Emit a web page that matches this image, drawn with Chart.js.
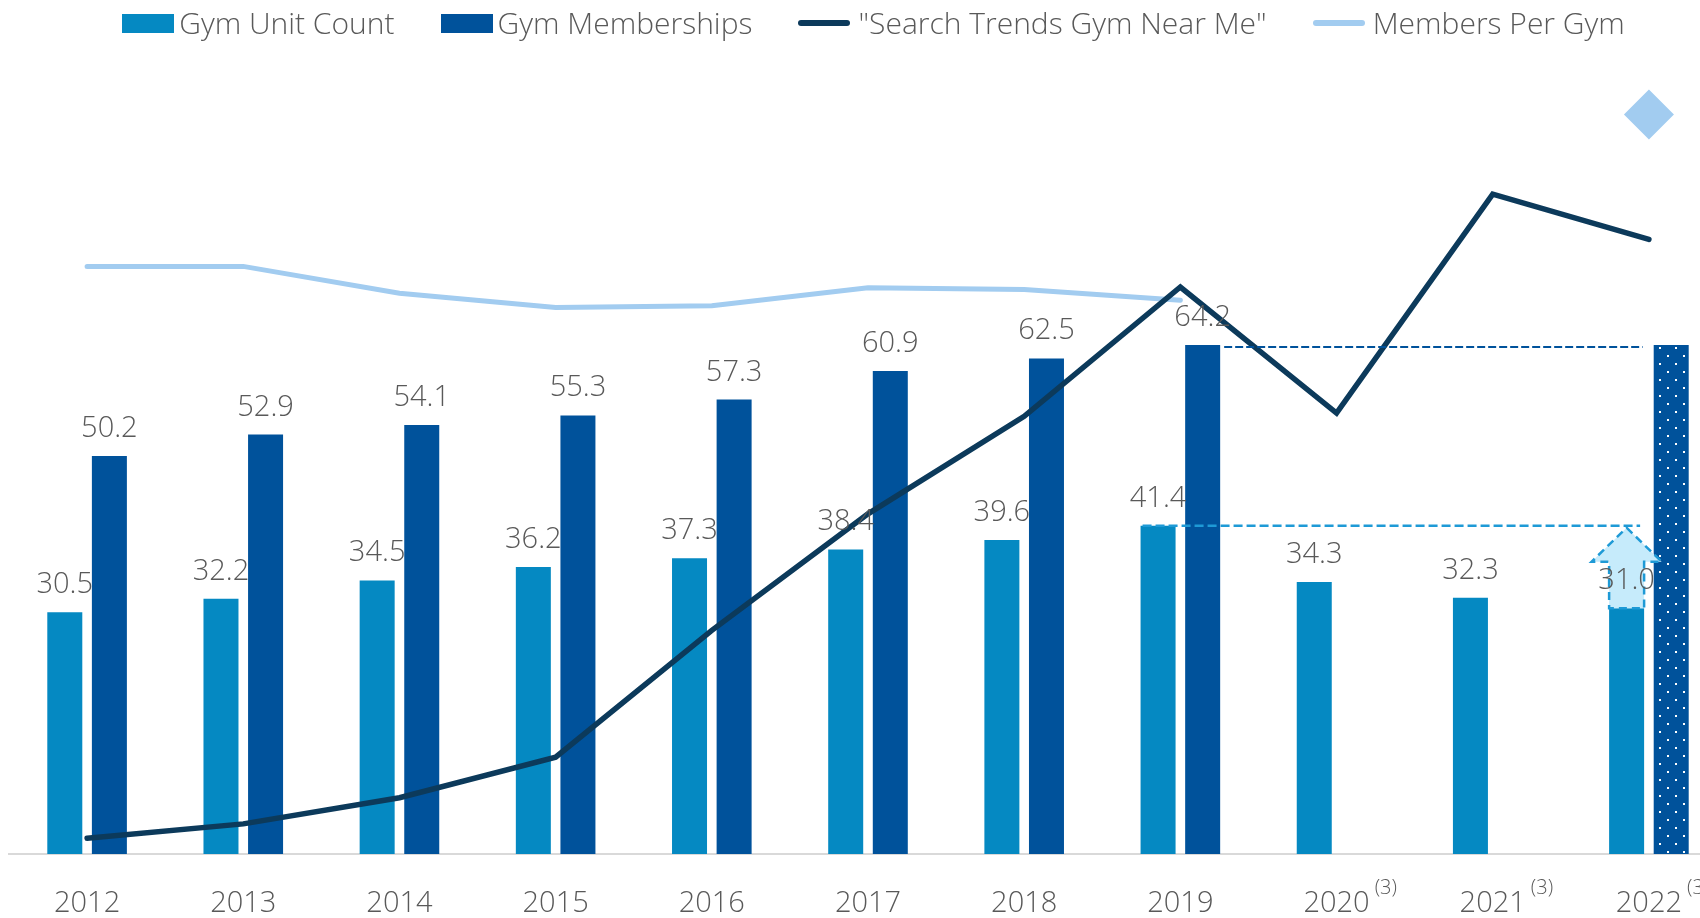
<!DOCTYPE html>
<html lang="en">
<head>
    <meta charset="UTF-8">
    <title>Gym Units, Memberships and Search Trends</title>
    <script src="https://cdn.jsdelivr.net/npm/chart.js"></script>
    <style>
        html, body { margin: 0; padding: 0; background: #fff; overflow: hidden; }
        #wrap { position: relative; width: 1740px; height: 918px; }
        #legend {
            position: absolute; top: 8px; left: 0; width: 1747px;
            display: flex; justify-content: center; gap: 46px;
            font-family: "Open Sans", sans-serif; font-weight: 300; font-size: 30px;
            line-height: 30px; color: #595959; z-index: 2;
        }
        #legend .item { display: flex; align-items: center; white-space: nowrap; }
        #legend .box { width: 52px; height: 19px; margin-right: 5px; }
        #legend .line { width: 52px; height: 6px; border-radius: 3px; margin-right: 8px; }
        canvas { position: absolute; top: 0; left: 0; }
    </style>
</head>
<body>
<div id="wrap">
    <div id="legend"></div>
    <canvas id="gymChart" width="1740" height="918"></canvas>
</div>
<script>
    // data
    const years = ['2012', '2013', '2014', '2015', '2016', '2017', '2018', '2019', '2020', '2021', '2022'];
    const footnoteYears = ['2020', '2021', '2022'];
    const gymUnits = [30.5, 32.2, 34.5, 36.2, 37.3, 38.4, 39.6, 41.4, 34.3, 32.3, 31.0];
    const gymMemberships = [50.2, 52.9, 54.1, 55.3, 57.3, 60.9, 62.5, 64.2, null, null, 64.2];
    const membershipProjected = [false, false, false, false, false, false, false, false, false, false, true];
    const searchTrends = [2.0, 3.8, 7.1, 12.2, 28.2, 42.9, 55.2, 71.5, 55.6, 83.2, 77.5];
    const membersPerGym = [1.645, 1.645, 1.57, 1.53, 1.535, 1.585, 1.58, 1.55, null, null, 2.07];

    const colUnits = '#0589c2';
    const colMembers = '#00529b';
    const colSearch = '#0c3a5b';
    const colPerGym = '#a2ccf0';
    const colText = '#595959';
    const fontFamily = '"Open Sans", sans-serif';

    // dotted fill for the projected 2022 memberships bar
    function dotPattern() {
        const c = document.createElement('canvas');
        c.width = 16; c.height = 16;
        const g = c.getContext('2d');
        g.fillStyle = colMembers;
        g.fillRect(0, 0, 16, 16);
        g.fillStyle = '#ffffff';
        g.fillRect(3, 3, 2, 2);
        g.fillRect(11, 11, 2, 2);
        return document.getElementById('gymChart').getContext('2d').createPattern(c, 'repeat');
    }
    const dots = dotPattern();

    // legend
    const legendItems = [
        { label: 'Gym Unit Count', color: colUnits, kind: 'box' },
        { label: 'Gym Memberships', color: colMembers, kind: 'box' },
        { label: '"Search Trends Gym Near Me"', color: colSearch, kind: 'line' },
        { label: 'Members Per Gym', color: colPerGym, kind: 'line' }
    ];
    const legendEl = document.getElementById('legend');
    legendItems.forEach(it => {
        const span = document.createElement('span');
        span.className = 'item';
        const mark = document.createElement('i');
        mark.className = it.kind;
        mark.style.background = it.color;
        span.appendChild(mark);
        span.appendChild(document.createTextNode(it.label));
        legendEl.appendChild(span);
    });

    function dashedLine(ctx, x1, x2, y, color, width, dash) {
        ctx.save();
        ctx.strokeStyle = color;
        ctx.lineWidth = width;
        ctx.setLineDash(dash);
        ctx.beginPath();
        ctx.moveTo(x1, y);
        ctx.lineTo(x2, y);
        ctx.stroke();
        ctx.restore();
    }

    const overlays = {
        id: 'overlays',
        afterDatasetsDraw(chart) {
            const ctx = chart.ctx;
            const yS = chart.scales.y;
            const unitBars = chart.getDatasetMeta(0).data;
            const memBars = chart.getDatasetMeta(1).data;
            const last = years.length - 1;

            // 2019 memberships level carried to 2022
            const m19 = memBars[7], m22 = memBars[last];
            dashedLine(ctx, m19.x + m19.width / 2 + 4, m22.x - m22.width / 2 - 11,
                yS.getPixelForValue(gymMemberships[7]) + 2, colMembers, 2, [8, 3]);

            // 2019 unit count level carried to 2022
            const u19 = unitBars[7], u22 = unitBars[last];
            const unitLevel = yS.getPixelForValue(gymUnits[7]);
            dashedLine(ctx, u19.x - u19.width / 2 + 2, u22.x + u22.width / 2 - 4,
                unitLevel, '#1e9ad6', 2.5, [9, 4]);

            // recovery arrow on the 2022 unit bar
            const ax = u22.x, half = u22.width / 2;
            const tip = unitLevel + 2, headBase = tip + 34, bottom = u22.y;
            ctx.save();
            ctx.beginPath();
            ctx.moveTo(ax, tip);
            ctx.lineTo(ax + 35, headBase);
            ctx.lineTo(ax + half, headBase);
            ctx.lineTo(ax + half, bottom);
            ctx.lineTo(ax - half, bottom);
            ctx.lineTo(ax - half, headBase);
            ctx.lineTo(ax - 35, headBase);
            ctx.closePath();
            ctx.fillStyle = '#c6ebfb';
            ctx.fill();
            ctx.strokeStyle = '#1e9ad6';
            ctx.lineWidth = 2.5;
            ctx.setLineDash([8, 5]);
            ctx.stroke();
            ctx.restore();

            // value labels
            ctx.save();
            ctx.font = '300 29px ' + fontFamily;
            ctx.fillStyle = colText;
            ctx.textAlign = 'center';
            ctx.textBaseline = 'alphabetic';
            unitBars.forEach((bar, i) => {
                ctx.fillText(gymUnits[i].toFixed(1), bar.x, bar.y - 19);
            });
            memBars.forEach((bar, i) => {
                if (gymMemberships[i] === null || membershipProjected[i]) return;
                ctx.fillText(gymMemberships[i].toFixed(1), bar.x, bar.y - 19);
            });
            ctx.restore();
        },
        afterDraw(chart) {
            // footnote markers after some years
            const ctx = chart.ctx;
            const xS = chart.scales.x;
            ctx.save();
            years.forEach((yr, i) => {
                if (!footnoteYears.includes(yr)) return;
                ctx.font = '300 29px ' + fontFamily;
                const w = ctx.measureText(yr).width;
                ctx.font = '300 20px ' + fontFamily;
                ctx.fillStyle = colText;
                ctx.textAlign = 'left';
                ctx.textBaseline = 'alphabetic';
                ctx.fillText('(3)', xS.getPixelForValue(i) + w / 2 + 5, chart.chartArea.bottom + 40);
            });
            ctx.restore();
        }
    };

    new Chart(document.getElementById('gymChart'), {
        data: {
            labels: years,
            datasets: [
                {
                    type: 'bar',
                    label: 'Gym Unit Count',
                    data: gymUnits,
                    backgroundColor: colUnits,
                    categoryPercentage: 0.571,
                    barPercentage: 0.785,
                    order: 2
                },
                {
                    type: 'bar',
                    label: 'Gym Memberships',
                    data: gymMemberships,
                    backgroundColor: membershipProjected.map(p => p ? dots : colMembers),
                    categoryPercentage: 0.571,
                    barPercentage: 0.785,
                    order: 3
                },
                {
                    type: 'line',
                    label: '"Search Trends Gym Near Me"',
                    data: searchTrends,
                    borderColor: colSearch,
                    borderWidth: 5.5,
                    borderCapStyle: 'round',
                    borderJoinStyle: 'miter',
                    pointRadius: 0,
                    tension: 0,
                    order: 0
                },
                {
                    type: 'line',
                    label: 'Members Per Gym',
                    data: membersPerGym,
                    yAxisID: 'y2',
                    borderColor: colPerGym,
                    backgroundColor: colPerGym,
                    borderWidth: 5,
                    borderCapStyle: 'round',
                    pointStyle: 'rectRot',
                    pointRadius: membersPerGym.map((v, i) => i === years.length - 1 ? 25 : 0),
                    pointBorderWidth: 0,
                    spanGaps: false,
                    tension: 0,
                    order: 1
                }
            ]
        },
        options: {
            responsive: false,
            animation: false,
            devicePixelRatio: 1,
            layout: { autoPadding: false, padding: { left: 9, right: 13, top: 61, bottom: 0 } },
            plugins: {
                legend: { display: false },
                tooltip: { enabled: false }
            },
            scales: {
                x: {
                    grid: { display: false, drawTicks: false },
                    border: { display: true, color: '#d9d9d9', width: 2 },
                    ticks: {
                        color: colText,
                        padding: 35,
                        font: { family: fontFamily, weight: '300', size: 29, lineHeight: 1 }
                    },
                    afterFit: (scale) => {
                        scale.height = 64;
                        scale.paddingLeft = 0;
                        scale.paddingRight = 0;
                    }
                },
                y: { display: false, min: 0, max: 100 },
                y2: { display: false, min: 0, max: 2.22 }
            }
        },
        plugins: [overlays]
    });
</script>
</body>
</html>
